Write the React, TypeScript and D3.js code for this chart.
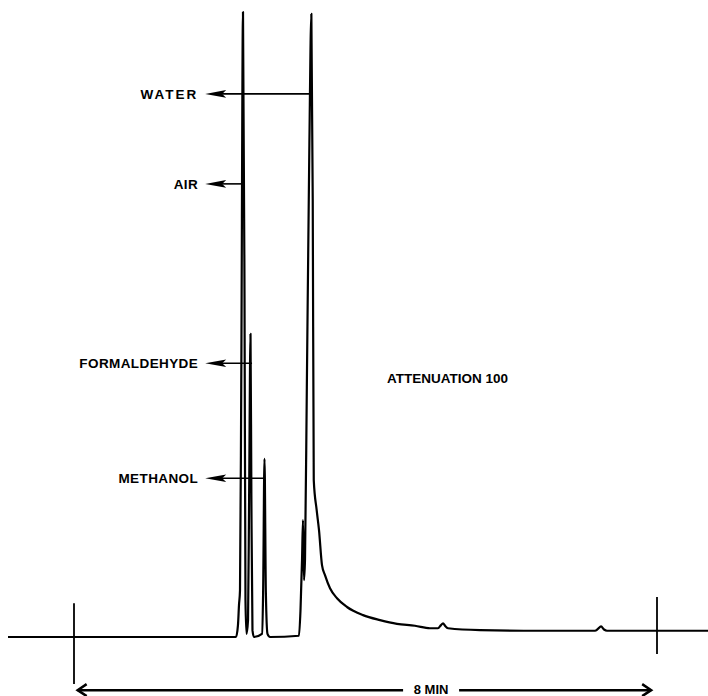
import React, { useEffect } from 'react';
import * as d3 from 'd3';

// chromatogram trace (time in min, signal in % of full scale)
const times = [
  -0.906, 2.223, 2.25, 2.264, 2.278, 2.295, 2.319, 2.34, 2.353, 2.367,
  2.388, 2.403, 2.422, 2.434, 2.449, 2.47, 2.58, 2.595, 2.614, 2.633,
  2.655, 2.69, 3.087, 3.108, 3.129, 3.142, 3.156, 3.17, 3.195, 3.229,
  3.257, 3.276, 3.29, 3.33, 3.362, 3.403, 3.444, 3.513, 3.609, 3.746,
  3.966, 4.199, 4.432, 4.679, 4.885, 4.995, 5.036, 5.064, 5.091, 5.132,
  5.571, 6.394, 7.149, 7.19, 7.232, 7.273, 7.314, 8.0, 8.7,
];
const signal = [
  0, 0, 1.9, 5.1, 7.5, 40.0, 100, 53.9, 5.9, 0.5,
  2.7, 22.5, 48.5, 22.5, 1.1, 0, 0.5, 7.0, 28.5, 7.0,
  0.5, 0, 0.2, 4.3, 12.3, 18.7, 9.1, 12.5, 40.0, 78.0,
  99.7, 70.0, 25.1, 20.3, 17.1, 11.5, 9.9, 7.8, 6.2, 4.8,
  3.5, 2.7, 2.1, 1.8, 1.4, 1.4, 1.9, 2.2, 1.8, 1.4,
  1.1, 1.0, 1.0, 1.3, 1.7, 1.2, 1.0, 1.0, 1.0,
];

// peak labels: name, time of the peak line the arrow reaches, arrow level
const peakNames = ['WATER', 'AIR', 'FORMALDEHYDE', 'METHANOL'];
const peakTimes = [3.266, 2.333, 2.443, 2.621];
const peakLevels = [86.9, 72.5, 43.8, 25.4];
const labelStart = 1.8;

// start / end marks of the 8 minute span
const markTimes = [0, 8];
const markTop = [5.4, 6.4];
const markBottom = [-7.5, -2.7];

const spanStart = 0.05;
const spanEnd = 7.92;
const spanLevel = -8.5;
const spanLabel = '8 MIN';
const spanLabelTime = 4.9;

const attenuationText = 'ATTENUATION 100';
const attenuationTime = 4.295;
const attenuationLevel = 40.6;

const W = 708;
const H = 696;

export default function App() {
  useEffect(() => {
    document.body.style.margin = '0';
  }, []);

  const x = d3.scaleLinear().domain([0, 8]).range([74, 657]);
  const y = d3.scaleLinear().domain([0, 100]).range([637, 12]);

  const pts: [number, number][] = times.map((t, i) => [t, signal[i]]);
  const line = d3.line<[number, number]>()
    .x(d => x(d[0]))
    .y(d => y(d[1]))
    .curve(d3.curveMonotoneX);

  const font = {
    fontFamily: '"Liberation Sans", Arial, sans-serif',
    fontWeight: 700,
    fontSize: 13.5,
  };

  const sy = y(spanLevel);
  const lx = x(spanLabelTime);

  return (
    <svg width={W} height={H} style={{ display: 'block', background: '#fff' }}>
      <path d={line(pts) || ''} fill="none" stroke="#000" strokeWidth={2.2} strokeLinejoin="round" />

      {markTimes.map((t, i) => (
        <line key={'m' + i} x1={x(t)} x2={x(t)} y1={y(markTop[i])} y2={y(markBottom[i])}
          stroke="#000" strokeWidth={1.8} />
      ))}

      {peakNames.map((name, i) => {
        const ay = y(peakLevels[i]);
        const tip = x(labelStart);
        return (
          <g key={name}>
            <line x1={tip + 8} x2={x(peakTimes[i])} y1={ay} y2={ay} stroke="#000" strokeWidth={1.6} />
            <path d={`M${tip},${ay} L${tip + 21},${ay - 3.8} L${tip + 17},${ay} L${tip + 21},${ay + 3.8} Z`} fill="#000" />
            <text x={tip - 7} y={ay} dy="0.36em" textAnchor="end"
              letterSpacing={name === 'WATER' ? 2 : 0.4} style={font}>{name}</text>
          </g>
        );
      })}

      <text x={x(attenuationTime)} y={y(attenuationLevel)} style={font}>{attenuationText}</text>

      <line x1={x(spanStart)} x2={lx - 28} y1={sy} y2={sy} stroke="#000" strokeWidth={2.5} />
      <line x1={lx + 28} x2={x(spanEnd)} y1={sy} y2={sy} stroke="#000" strokeWidth={2.5} />
      <path d={`M${x(spanStart) + 9},${sy - 6} L${x(spanStart)},${sy} L${x(spanStart) + 9},${sy + 6}`}
        fill="none" stroke="#000" strokeWidth={2.5} />
      <path d={`M${x(spanEnd) - 9},${sy - 6} L${x(spanEnd)},${sy} L${x(spanEnd) - 9},${sy + 6}`}
        fill="none" stroke="#000" strokeWidth={2.5} />
      <text x={lx} y={sy - 1} dy="0.34em" textAnchor="middle" style={{ ...font, fontSize: 13 }}>{spanLabel}</text>
    </svg>
  );
}
